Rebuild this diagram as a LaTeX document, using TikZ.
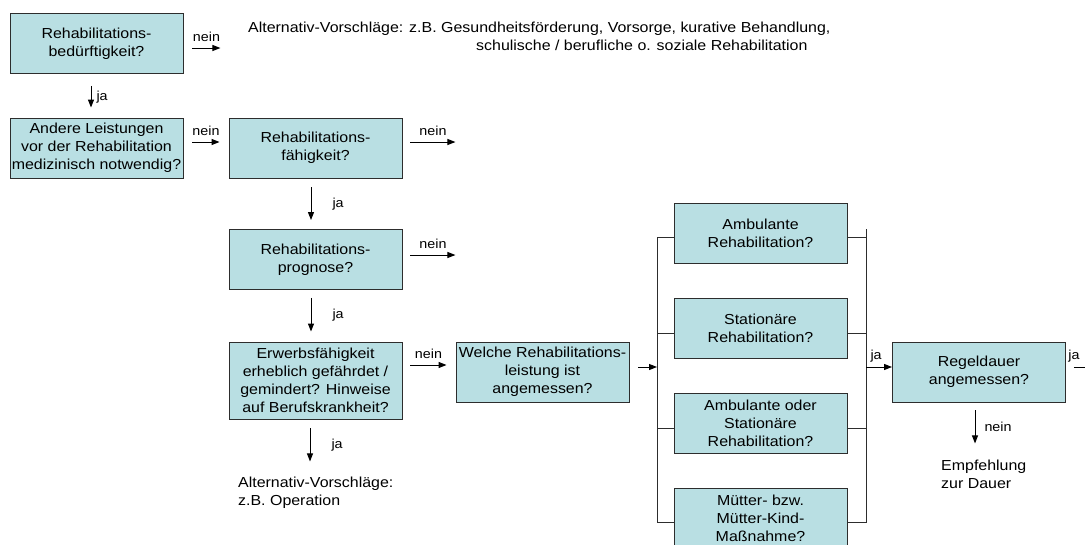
\documentclass[tikz,border=0pt]{standalone}
\usepackage{fontspec}
\setmainfont{Liberation Sans}[FakeStretch=1.1]
\usetikzlibrary{arrows.meta}
\definecolor{reha@fill}{RGB}{185,223,227}
\definecolor{reha@line}{RGB}{45,45,45}

\begin{document}
\begin{tikzpicture}[x=1pt,y=-1pt,
  frage/.style={draw=reha@line, fill=reha@fill, line width=0.9pt,
    minimum width=173pt, minimum height=60pt, inner sep=1pt,
    align=center, font=\fontsize{14.5}{18}\selectfont},
  pfeil/.style={-{Triangle[length=8pt,width=6pt]}, line width=1pt},
  klammer/.style={line width=0.9pt, draw=reha@line},
  lbl/.style={font=\fontsize{13}{15}\selectfont, inner sep=2pt},
  hinweis/.style={align=left, inner sep=0pt, font=\fontsize{14.5}{18}\selectfont},
]

\useasboundingbox (0,0) rectangle (1085,544);

% linke Spalte
\node[frage] (b1) at (96.5,43.5) {Rehabilitations-\\bedürftigkeit?};
\node[frage] (b2) at (96.5,148) {Andere Leistungen\\vor der Rehabilitation\\medizinisch notwendig?};

% mittlere Spalte
\node[frage] (b3) at (315.5,148) {Rehabilitations-\\fähigkeit?};
\node[frage] (b4) at (315.5,259.5) {Rehabilitations-\\prognose?};
\node[frage, minimum height=77pt] (b5) at (315.5,380.5)
  {Erwerbsfähigkeit\\erheblich gefährdet /\\gemindert? Hinweise\\auf Berufskrankheit?};
\node[frage] (b6) at (542.5,372) {Welche Rehabilitations-\\leistung ist\\angemessen?};

% Leistungsformen
\node[frage] (b7) at (760.5,233) {Ambulante\\Rehabilitation?};
\node[frage] (b8) at (760.5,328.5) {Stationäre\\Rehabilitation?};
\node[frage] (b9) at (760.5,423.5) {Ambulante oder\\Stationäre\\Rehabilitation?};
\node[frage] (b10) at (760.5,518) {Mütter- bzw.\\Mütter-Kind-\\Maßnahme?};

% Regeldauer
\node[frage] (b11) at (979,372) {Regeldauer\\angemessen?};

% Hinweise
\node[hinweis, anchor=north west] (alt1) at (248,22)
  {Alternativ-Vorschläge: z.B. Gesundheitsförderung, Vorsorge, kurative Behandlung,\\
   \hspace*{228pt}schulische / berufliche o. soziale Rehabilitation};
\node[hinweis, anchor=north west] (alt2) at (238,477) {Alternativ-Vorschläge:\\z.B. Operation};
\node[hinweis, anchor=north west] (empf) at (941,460) {Empfehlung\\zur Dauer};

\coordinate (kl) at (657,0);
\coordinate (kr) at (866,0);

% Pfeile
\draw[pfeil] ([xshift=9pt,yshift=-4.5pt]b1.east) -- ++(28,0)
  node[midway,above=4pt,lbl] {nein};
\draw[pfeil] ([xshift=-5.5pt,yshift=-12pt]b1.south) -- ([xshift=-5.5pt,yshift=10pt]b2.north)
  node[midway,right,lbl,xshift=3pt] {ja};
\draw[pfeil] ([xshift=9pt,yshift=6pt]b2.east) -- ([xshift=-9pt,yshift=6pt]b3.west)
  node[midway,above=4pt,lbl] {nein};
\draw[pfeil] ([xshift=8pt,yshift=6pt]b3.east) -- ++(45,0)
  node[midway,above=4pt,lbl] {nein};
\draw[pfeil] ([xshift=-4.5pt,yshift=-9pt]b3.south) -- ([xshift=-4.5pt,yshift=9pt]b4.north)
  node[midway,right,lbl,xshift=19pt] {ja};
\draw[pfeil] ([xshift=8pt,yshift=4.5pt]b4.east) -- ++(45,0)
  node[midway,above=4pt,lbl] {nein};
\draw[pfeil] ([xshift=-4.5pt,yshift=-8pt]b4.south) -- ([xshift=-4.5pt,yshift=10pt]b5.north)
  node[midway,right,lbl,xshift=19pt] {ja};
\draw[pfeil] ([xshift=8pt,yshift=15.5pt]b5.east) -- ([xshift=-9pt,yshift=7pt]b6.west)
  node[midway,above=4pt,lbl] {nein};
\draw[pfeil] ([xshift=-5.5pt,yshift=-9pt]b5.south) -- ++(0,33)
  node[midway,right,lbl,xshift=19pt] {ja};

% Verzweigung
\draw[pfeil] ([xshift=9pt,yshift=5pt]b6.east) -- ([yshift=5pt]b6.east -| kl);
\foreach \b in {b7,b8,b9,b10} {
  \draw[klammer] ([yshift=-4.5pt]\b.west) -- ([yshift=-4.5pt]\b.west -| kl);
  \draw[klammer] ([yshift=-4.5pt]\b.east) -- ([yshift=-4.5pt]\b.east -| kr);
}
\draw[klammer] ([yshift=-4.5pt]b7.west -| kl) -- ([yshift=-4.5pt]b10.west -| kl);
\draw[klammer] ([yshift=4pt]b7.east -| kr) -- ([yshift=-4.5pt]b10.east -| kr);

\draw[pfeil] ([yshift=5pt]b11.west -| kr) -- ([yshift=5pt]b11.west)
  node[pos=0,above right=2pt,lbl] {ja};
\draw[pfeil] ([xshift=8pt,yshift=5pt]b11.east) -- ++(20,0)
  node[pos=0,above=2pt,lbl] {ja};
\draw[pfeil] ([xshift=-4pt,yshift=-8pt]b11.south) -- ++(0,33)
  node[midway,right,lbl,xshift=7pt] {nein};

\end{tikzpicture}
\end{document}
